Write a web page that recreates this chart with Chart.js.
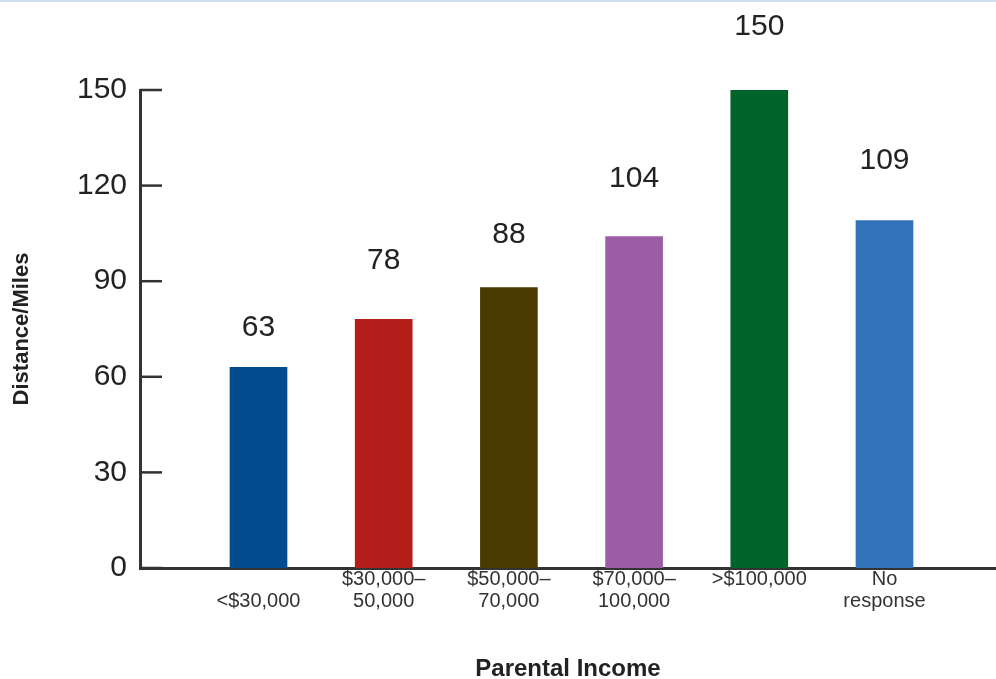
<!DOCTYPE html>
<html>
<head>
<meta charset="utf-8">
<script src="https://cdn.jsdelivr.net/npm/chart.js@4"></script>
<style>
  html, body { margin: 0; padding: 0; background: #fff; }
  #wrap { position: relative; width: 996px; height: 679px; }
  #topline { position: absolute; left: 0; top: 0; width: 996px; height: 2px; background: #cfe1f0; }
  canvas { display: block; }
</style>
</head>
<body>
<div id="wrap">
  <canvas id="grafico" width="996" height="679"></canvas>
  <div id="topline"></div>
</div>
<script>
const categorias = [
  ["", "<$30,000"],
  ["$30,000–", "50,000"],
  ["$50,000–", "70,000"],
  ["$70,000–", "100,000"],
  [">$100,000"],
  ["No", "response"]
];
const distancias = [63, 78, 88, 104, 150, 109];
const colores = ["#034c8e", "#b41e1a", "#4b3a02", "#9c5da6", "#00632a", "#3173bb"];
const ticksY = [0, 30, 60, 90, 120, 150];

const fuente = "'Liberation Sans', Arial, sans-serif";

// distancia (px) entre el tope de cada barra y el centro de su etiqueta
const separacionEtiqueta = [40, 59, 53, 58, 63, 60];

// marcas cortas del eje Y hacia adentro del grafico
const marcasInternas = {
  id: "marcasInternas",
  afterDraw(chart) {
    const ctx = chart.ctx;
    const y = chart.scales.y;
    const izq = chart.chartArea.left;
    ctx.save();
    ctx.strokeStyle = "#333";
    ctx.lineWidth = 2.5;
    ticksY.forEach(v => {
      const py = y.getPixelForValue(v);
      ctx.beginPath();
      ctx.moveTo(izq, py);
      ctx.lineTo(izq + 22, py);
      ctx.stroke();
    });
    ctx.restore();
  }
};

// valor encima de cada barra
const etiquetasValor = {
  id: "etiquetasValor",
  afterDatasetsDraw(chart) {
    const ctx = chart.ctx;
    const meta = chart.getDatasetMeta(0);
    ctx.save();
    ctx.font = "30px " + fuente;
    ctx.fillStyle = "#222";
    ctx.textAlign = "center";
    ctx.textBaseline = "middle";
    meta.data.forEach((barra, i) => {
      ctx.fillText(String(distancias[i]), barra.x, barra.y - separacionEtiqueta[i]);
    });
    ctx.restore();
  }
};

const grafico = document.getElementById("grafico").getContext("2d");
new Chart(grafico, {
  type: "bar",
  data: {
    datasets: [{
      data: distancias.map((v, i) => ({ x: i + 1, y: v })),
      backgroundColor: colores,
      barThickness: 57,
      borderWidth: 0
    }]
  },
  options: {
    responsive: false,
    animation: false,
    layout: { padding: { top: 90, right: 0, left: 0, bottom: 0 } },
    plugins: { legend: { display: false }, tooltip: { enabled: false } },
    scales: {
      x: {
        type: "linear",
        offset: false,
        min: 0.0535,
        max: 6.8906,
        grid: { display: false, drawTicks: false },
        border: { display: true, color: "#333", width: 3 },
        afterBuildTicks: scale => {
          scale.ticks = categorias.map((c, i) => ({ value: i + 1 }));
        },
        afterFit: scale => { scale.height = 111; },
        ticks: {
          autoSkip: false,
          maxRotation: 0,
          padding: 0,
          color: "#333",
          font: { family: fuente, size: 20, lineHeight: 1.1 },
          callback: v => categorias[Math.round(v) - 1]
        },
        title: {
          display: true,
          text: "Parental Income",
          color: "#222",
          font: { family: fuente, size: 24, weight: "bold" },
          padding: { top: 0, bottom: -5 }
        }
      },
      y: {
        min: 0,
        max: 150,
        afterBuildTicks: scale => {
          scale.ticks = ticksY.map(v => ({ value: v }));
        },
        afterFit: scale => { scale.width = 140; },
        grid: { display: false, drawTicks: false },
        border: { display: true, color: "#333", width: 3 },
        ticks: {
          padding: 13,
          color: "#222",
          font: { family: fuente, size: 30 }
        },
        title: {
          display: true,
          text: "Distance/Miles",
          color: "#222",
          font: { family: fuente, size: 22, weight: "bold" },
          padding: { top: 9, bottom: 0 }
        }
      }
    }
  },
  plugins: [marcasInternas, etiquetasValor]
});
</script>
</body>
</html>
